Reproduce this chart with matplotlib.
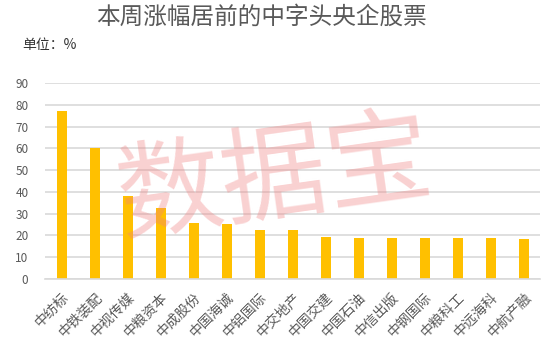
import matplotlib.pyplot as plt

plt.rcParams['font.family'] = ['Noto Sans CJK SC', 'DejaVu Sans']

# Data
stocks = ['中纺标', '中铁装配', '中视传媒', '中粮资本', '中成股份', '中国海诚', '中铝国际',
          '中交地产', '中国交建', '中国石油', '中信出版', '中钢国际', '中粮科工', '中远海科', '中航产融']
gains = [77.0, 60.3, 38.2, 32.4, 25.6, 25.2, 22.6, 22.5, 19.4, 19.0, 19.0, 18.7, 18.7, 18.7, 18.2]
yticks = [0, 10, 20, 30, 40, 50, 60, 70, 80, 90]

grey = '#595959'

fig = plt.figure(figsize=(5.5, 3.49), dpi=100)
ax = fig.add_axes([0.082, 0.2006, 0.9, 0.5614])

ax.bar(range(len(stocks)), gains, width=0.3, color='#ffc000', zorder=2)

ax.set_xlim(-0.5, len(stocks) - 0.5)
ax.set_ylim(0, 90)
ax.set_yticks(yticks)
ax.yaxis.grid(True, color='#d9d9d9', linewidth=1.2, zorder=0)
ax.tick_params(axis='y', length=0, pad=12, labelsize=8.5, labelcolor=grey)
ax.tick_params(axis='x', length=0, pad=8, labelsize=10, labelcolor=grey)
ax.set_xticks(range(len(stocks)))
ax.set_xticklabels(stocks, rotation=45, ha='right', rotation_mode='anchor')
for s in ['top', 'right', 'left']:
    ax.spines[s].set_visible(False)
ax.spines['bottom'].set_color('#d9d9d9')
ax.spines['bottom'].set_linewidth(1.2)

fig.text(0.476, 0.951, '本周涨幅居前的中字头央企股票', ha='center', va='center',
         fontsize=17, color=grey)
fig.text(0.04, 0.87, '单位：%', ha='left', va='center', fontsize=10, color='#333333')

# watermark
fig.text(0.5, 0.484, '数据宝', ha='center', va='center', fontsize=76, color='#f08080',
         alpha=0.36, rotation=8, zorder=10)

fig.savefig('out.png', dpi=100)
